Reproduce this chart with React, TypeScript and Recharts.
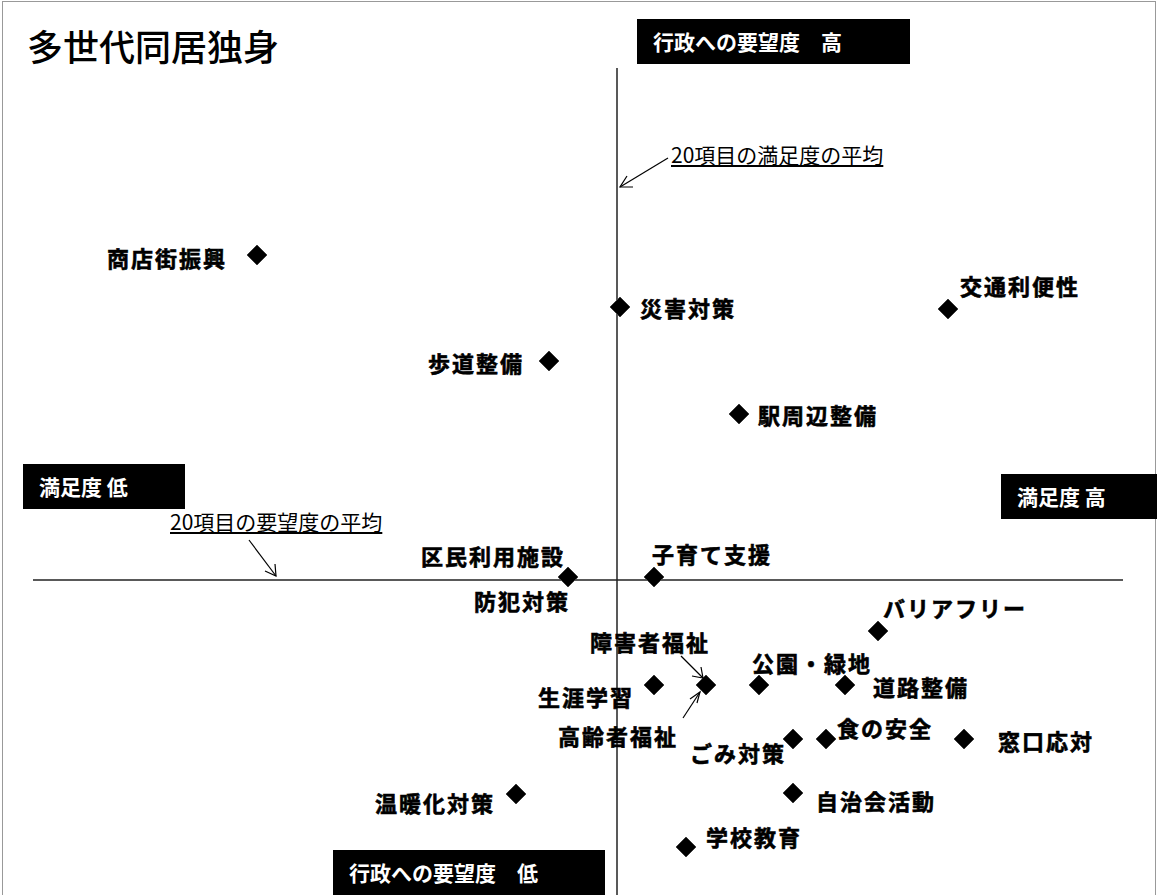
import React from 'react';
import { ScatterChart, Scatter, XAxis, YAxis, ReferenceLine } from 'recharts';

// satisfaction score (x) and demand % (y) per item
const items = [
  '商店街振興', '災害対策', '交通利便性', '歩道整備', '駅周辺整備',
  '区民利用施設', '防犯対策', '子育て支援', 'バリアフリー', '障害者福祉',
  '生涯学習', '公園・緑地', '道路整備', '高齢者福祉', 'ごみ対策',
  '食の安全', '窓口応対', '温暖化対策', '自治会活動', '学校教育',
];
const satisfaction = [
  2.524, 2.887, 3.215, 2.816, 3.006,
  2.835, 2.835, 2.921, 3.145, 2.973,
  2.921, 3.026, 3.112, 2.973, 3.060,
  3.093, 3.231, 2.783, 3.060, 2.953,
];
const demand = [
  35.65, 33.05, 32.95, 30.35, 27.7,
  19.55, 19.55, 19.55, 16.85, 14.15,
  14.15, 14.15, 14.15, 14.15, 11.45,
  11.45, 11.45, 8.7, 8.75, 6.05,
];
const avgSatisfaction = 2.884;
const avgDemand = 19.4;

const data = items.map((name, i) => ({ name, x: satisfaction[i], y: demand[i] }));

// label placement relative to marker: [dx, dy, anchor]
const labelPos: Record<string, [number, number, 'start' | 'end']> = {
  '商店街振興': [-30, 2, 'end'],
  '災害対策': [20, 0, 'start'],
  '交通利便性': [12, -24, 'start'],
  '歩道整備': [-25, 1, 'end'],
  '駅周辺整備': [19, 0, 'start'],
  '区民利用施設': [-3, -22, 'end'],
  '防犯対策': [2, 23, 'end'],
  '子育て支援': [-2, -24, 'start'],
  'バリアフリー': [5, -24, 'start'],
  '障害者福祉': [-116, -44, 'start'],
  '生涯学習': [-20, 11, 'end'],
  '公園・緑地': [-7, -23, 'start'],
  '道路整備': [28, 1, 'start'],
  '高齢者福祉': [-148, 50, 'start'],
  'ごみ対策': [-7, 13, 'end'],
  '食の安全': [11, -12, 'start'],
  '窓口応対': [34, 1, 'start'],
  '温暖化対策': [-21, 8, 'end'],
  '自治会活動': [23, 7, 'start'],
  '学校教育': [20, -11, 'start'],
};

const font = '"Noto Sans CJK JP", "Noto Sans", sans-serif';

function Diamond(props: any) {
  const { cx, cy, payload } = props;
  const [dx, dy, anchor] = labelPos[payload.name] || [12, 0, 'start'];
  const r = 10;
  return (
    <g>
      <polygon
        points={`${cx},${cy - r} ${cx + r},${cy} ${cx},${cy + r} ${cx - r},${cy}`}
        fill="#000"
        stroke="#444"
        strokeWidth={1}
      />
      <text
        x={cx + dx}
        y={cy + dy}
        textAnchor={anchor}
        dominantBaseline="central"
        fontSize={22}
        fontWeight={700}
        letterSpacing={2}
        fontFamily={font}
        fill="#000"
        stroke="#000"
        strokeWidth={0.6}
      >
        {payload.name}
      </text>
    </g>
  );
}

const boxStyle: React.CSSProperties = {
  position: 'absolute',
  background: '#000',
  color: '#fff',
  fontFamily: font,
  fontWeight: 700,
  fontSize: 21,
  height: 45,
  lineHeight: '45px',
  boxSizing: 'border-box',
  paddingLeft: 16,
  whiteSpace: 'pre',
  overflow: 'hidden',
};

const noteStyle: React.CSSProperties = {
  position: 'absolute',
  fontFamily: font,
  fontSize: 21,
  textDecoration: 'underline',
  whiteSpace: 'pre',
  lineHeight: '24px',
};

export default function App() {
  return (
    <div style={{ position: 'absolute', left: 0, top: 0, width: 1157, height: 895, overflow: 'hidden', background: '#fff' }}>
      <div style={{ position: 'absolute', left: 2, top: 1, width: 1152, height: 900, border: '1.5px solid #999' }} />
      <ScatterChart width={1157} height={895} margin={{ top: 68, right: 34, bottom: 0, left: 33 }} style={{ position: 'absolute', left: 0, top: 0 }}>
        <XAxis type="number" dataKey="x" domain={[2.3, 3.39]} hide />
        <YAxis type="number" dataKey="y" domain={[3.65, 45]} hide />
        <ReferenceLine x={avgSatisfaction} stroke="#222" strokeWidth={1.5} />
        <ReferenceLine y={avgDemand} stroke="#222" strokeWidth={1.5} />
        <Scatter data={data} shape={Diamond} isAnimationActive={false} />
      </ScatterChart>

      <svg width={1157} height={895} style={{ position: 'absolute', left: 0, top: 0, pointerEvents: 'none' }}>
        <g stroke="#000" strokeWidth={1.2} fill="none">
          <line x1={668} y1={158} x2={620} y2={187} />
          <polyline points="627,176 620,187 633,187" />
          <line x1={249} y1={540} x2={276} y2={576} />
          <polyline points="265,571 276,576 275,564" />
          <line x1={681} y1={656} x2={703} y2={678} />
          <polyline points="692,676 703,678 701,667" />
          <line x1={683} y1={718} x2={700} y2={692} />
          <polyline points="697,703 700,692 690,699" />
        </g>
      </svg>

      <div style={{ position: 'absolute', left: 27, top: 21, fontFamily: font, fontSize: 36, fontWeight: 500, lineHeight: '48px', color: '#000', whiteSpace: 'pre' }}>
        多世代同居独身
      </div>

      <div style={{ ...boxStyle, left: 637, top: 19, width: 273 }}>行政への要望度　高</div>
      <div style={{ ...boxStyle, left: 23, top: 464, width: 162 }}>満足度 低</div>
      <div style={{ ...boxStyle, left: 1001, top: 474, width: 156 }}>満足度 高</div>
      <div style={{ ...boxStyle, left: 333, top: 850, width: 272 }}>行政への要望度　低</div>

      <div style={{ ...noteStyle, left: 671, top: 142 }}>20項目の満足度の平均</div>
      <div style={{ ...noteStyle, left: 170, top: 509 }}>20項目の要望度の平均</div>
    </div>
  );
}
